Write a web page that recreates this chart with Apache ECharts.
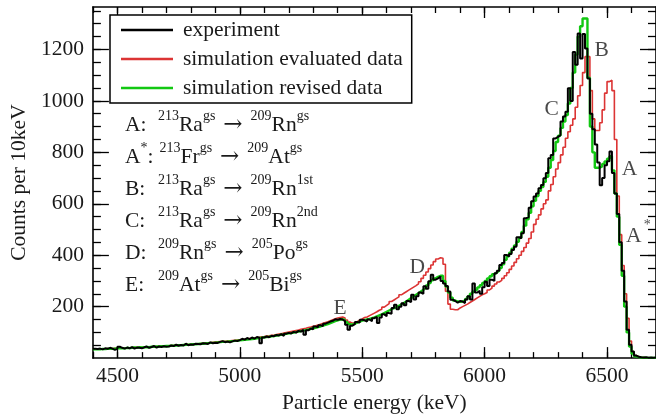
<!DOCTYPE html>
<html><head><meta charset="utf-8">
<script src="https://cdn.jsdelivr.net/npm/echarts@6/dist/echarts.min.js"></script>
<style>html,body{margin:0;padding:0;background:#fff}#c{width:656px;height:419px}</style>
</head><body><div id="c"></div>
<script>
// ---- data (10 keV bins, bin start energies) ----
const binStart = [];
for (let e = 4400; e < 6700; e += 10) binStart.push(e);

const experiment = [
 36,35,37,34,38,36,40,37,32,36,
 44,40,37,41,38,43,37,41,40,38,
 42,45,40,43,47,41,45,43,46,44,
 45,49,47,52,48,51,49,56,50,53,
 52,56,55,54,58,57,55,61,58,60,
 59,63,66,62,64,61,65,68,66,70,
 75,72,78,74,80,76,82,79,58,80,
 84,81,87,85,90,88,93,86,95,98,
 96,102,99,106,103,110,91,108,115,112,
 123,120,128,125,134,138,142,145,151,149,
 152,150,144,130,110,126,132,140,138,149,
 147,142,150,143,155,160,136,158,170,163,
 175,172,195,207,190,200,213,205,222,218,
 246,228,240,255,250,279,270,299,324,305,
 310,317,300,290,280,259,227,222,215,222,
 220,214,228,240,228,290,255,262,250,275,
 297,280,305,300,330,340,362,370,401,395,
 405,420,433,470,466,485,544,548,585,610,
 628,640,660,673,699,720,777,790,854,860,
 867,920,939,958,1049,1000,1190,1140,1262,1165,
 1260,1204,1087,950,890,830,760,672,700,750,
 765,803,720,640,560,450,340,220,110,52,
 26,10,5,3,2,3,1,2,1,2
];
const simEvaluated = [
 35,35,35,36,36,37,37,37,38,38,
 39,39,39,40,40,41,41,42,42,42,
 43,43,44,44,45,45,46,46,47,47,
 48,49,49,50,51,51,52,53,53,54,
 55,56,56,57,58,59,59,60,61,62,
 63,64,65,65,66,67,68,69,70,71,
 72,73,75,76,77,78,80,81,83,84,
 86,87,89,90,92,94,95,97,99,101,
 103,105,107,109,112,114,116,119,121,124,
 126,129,132,135,138,141,145,149,153,156,
 158,160,156,148,140,136,136,142,148,152,
 158,160,165,170,175,180,186,190,198,205,
 212,220,226,232,238,246,252,258,264,270,
 276,282,289,297,310,322,335,348,362,375,
 385,390,388,365,260,210,190,188,188,195,
 200,205,210,216,222,228,234,240,246,250,
 255,265,272,280,288,296,302,310,320,332,
 345,358,372,386,400,415,430,447,465,490,
 520,540,557,580,600,615,650,675,705,735,
 760,790,820,855,880,905,930,975,1020,1060,
 1110,1172,1172,1040,930,885,885,915,965,1030,
 1075,1080,1040,850,630,480,360,250,155,66,
 25,10,5,3,2,1,1,1,1,1
];
const simRevised = [
 34,35,34,36,35,36,37,36,37,38,
 38,39,38,40,39,40,41,40,42,41,
 42,43,42,44,44,45,45,46,46,47,
 47,48,48,49,50,50,51,52,52,53,
 54,54,55,56,56,57,58,59,59,60,
 61,62,63,63,64,65,66,67,68,69,
 70,71,72,73,74,75,77,78,79,81,
 82,83,85,86,88,89,91,92,94,96,
 97,99,101,103,105,107,109,111,114,116,
 118,121,123,126,129,132,136,140,144,147,
 150,151,148,140,132,130,134,138,142,146,
 148,150,152,155,158,162,166,170,175,180,
 185,190,194,198,203,208,214,220,227,234,
 240,246,252,259,266,273,282,292,302,310,
 316,320,320,300,278,255,235,224,220,219,
 220,222,230,240,250,258,266,275,283,292,
 300,310,318,326,333,340,350,365,382,396,
 410,425,438,452,468,490,515,540,565,590,
 612,630,650,665,685,705,740,770,805,840,
 865,895,920,945,990,1050,1110,1180,1250,1290,
 1320,1320,1090,900,800,740,740,745,755,765,
 775,785,730,640,550,440,320,200,100,45,
 18,7,4,2,2,1,1,1,1,1
];

const seriesNames = ['experiment', 'simulation evaluated data', 'simulation revised data'];
const xMajorTicks = [4500, 5000, 5500, 6000, 6500];
const yMajorTicks = [200, 400, 600, 800, 1000, 1200];

// peak markers
const peakNames  = ['A', 'A*', 'B', 'C', 'D', 'E'];
const peakEnergy = [6592, 6628, 6478, 6274, 5725, 5410];
const peakCounts = [735, 475, 1198, 968, 352, 195];

// decay list
const decayKeys       = ['A', 'A*', 'B', 'C', 'D', 'E'];
const parentMass      = ['213', '213', '213', '213', '209', '209'];
const parentSymbol    = ['Ra', 'Fr', 'Ra', 'Ra', 'Rn', 'At'];
const parentState     = ['gs', 'gs', 'gs', 'gs', 'gs', 'gs'];
const daughterMass    = ['209', '209', '209', '209', '205', '205'];
const daughterSymbol  = ['Rn', 'At', 'Rn', 'Rn', 'Po', 'Bi'];
const daughterState   = ['gs', 'gs', '1st', '2nd', 'gs', 'gs'];

// ---- build ----
const X_MIN = 4400, X_MAX = 6700, Y_MIN = 0, Y_MAX = 1365;
const FONT = '"Liberation Serif", "Times New Roman", serif';
const FS = 21.5;
const TXT = '#1a1a1a';

function steps(vals) {
  const d = binStart.map((e, i) => [e, vals[i]]);
  d.push([X_MAX, vals[vals.length - 1]]);
  return d;
}
const xMinor = []; for (let v = X_MIN; v <= X_MAX; v += 100) xMinor.push(v);
const yMinor = []; for (let v = 50; v <= Y_MAX; v += 50) yMinor.push(v);

function keyRich(k) {
  if (k.endsWith('*')) return '{kA|' + k.slice(0, -1) + '}{ks|*}{kc|:}';
  return '{k|' + k + ':}';
}
const decayText = decayKeys.map((k, i) =>
  keyRich(k) + '{s|' + parentMass[i] + '}{m|' + parentSymbol[i] + '}{s|' + parentState[i] +
  '}{ar|\u2192}{s|' + daughterMass[i] + '}{m|' + daughterSymbol[i] + '}{s|' + daughterState[i] + '}'
).join('\n');

const axisLineStyle = { color: '#000', width: 1.6 };
function xAx(pos, major, withLabels) {
  const a = {
    type: 'value', min: X_MIN, max: X_MAX, position: pos,
    axisLine: { show: major, onZero: false, lineStyle: axisLineStyle },
    axisTick: { show: true, inside: true, length: major ? 11 : 6, customValues: major ? xMajorTicks : xMinor, lineStyle: { color: '#000', width: 1.3 } },
    axisLabel: withLabels ? { show: true, customValues: xMajorTicks, formatter: v => String(v), fontSize: FS, fontFamily: FONT, color: TXT, margin: 7 } : { show: false },
    splitLine: { show: false }
  };
  if (withLabels) {
    a.name = 'Particle energy (keV)';
    a.nameLocation = 'middle';
    a.nameGap = 33;
    a.nameTextStyle = { fontSize: FS, fontFamily: FONT, color: TXT };
  }
  return a;
}
function yAx(pos, major, withLabels) {
  const a = {
    type: 'value', min: Y_MIN, max: Y_MAX, position: pos,
    axisLine: { show: major, onZero: false, lineStyle: axisLineStyle },
    axisTick: { show: true, inside: true, length: major ? 16 : 8, customValues: major ? yMajorTicks : yMinor, lineStyle: { color: '#000', width: 1.3 } },
    axisLabel: withLabels ? { show: true, customValues: yMajorTicks, formatter: v => String(v), fontSize: FS, fontFamily: FONT, color: TXT, margin: 9 } : { show: false },
    splitLine: { show: false }
  };
  if (withLabels) {
    a.name = 'Counts per 10keV';
    a.nameLocation = 'middle';
    a.nameGap = 58;
    a.nameTextStyle = { fontSize: FS, fontFamily: FONT, color: TXT };
  }
  return a;
}

const lineSeries = (name, vals, color, width) => ({
  name, type: 'line', step: 'end', data: steps(vals),
  xAxisIndex: 0, yAxisIndex: 0,
  symbol: 'none', showSymbol: false,
  lineStyle: { color, width }, itemStyle: { color },
  emphasis: { disabled: true }, silent: true, clip: true
});

const chart = echarts.init(document.getElementById('c'), null, { renderer: 'canvas' });
chart.setOption({
  animation: false,
  backgroundColor: '#fff',
  grid: { left: 92, top: 7, width: 565, height: 353, containLabel: false },
  xAxis: [xAx('bottom', true, true), xAx('bottom', false, false), xAx('top', true, false), xAx('top', false, false)],
  yAxis: [yAx('left', true, true), yAx('left', false, false), yAx('right', true, false), yAx('right', false, false)],
  legend: {
    data: seriesNames.map(n => ({ name: n, icon: 'rect' })),
    orient: 'vertical', left: 110, top: 15,
    padding: [4, 9, 4, 11],
    itemWidth: 52, itemHeight: 2.5, itemGap: 7,
    backgroundColor: '#fff', borderColor: '#000', borderWidth: 1.5, borderRadius: 0,
    textStyle: { fontSize: FS, lineHeight: 21, fontFamily: FONT, color: TXT, padding: [0, 0, 0, 5] },
    selectedMode: false
  },
  series: [
    lineSeries(seriesNames[1], simEvaluated, '#dc3434', 1.6),
    lineSeries(seriesNames[2], simRevised, '#12c812', 2.4),
    lineSeries(seriesNames[0], experiment, '#000000', 2),
    {
      type: 'scatter', xAxisIndex: 0, yAxisIndex: 0, silent: true,
      symbolSize: 1, itemStyle: { color: 'rgba(0,0,0,0)' },
      data: peakNames.map((n, i) => ({ name: n, value: [peakEnergy[i], peakCounts[i]] })),
      label: {
        show: true, position: 'inside', color: TXT, fontSize: FS, fontFamily: FONT,
        formatter: p => p.name.endsWith('*') ? '{b|' + p.name.slice(0, -1) + '}{sp|*}' : '{b|' + p.name + '}',
        rich: {
          b: { fontSize: FS, fontFamily: FONT, color: TXT, lineHeight: 36 },
          sp: { fontSize: 14, fontFamily: FONT, color: TXT, lineHeight: 12, verticalAlign: 'top', padding: [0, 0, 0, 2] }
        }
      }
    }
  ],
  graphic: [{
    type: 'text', left: 125, top: 109, silent: true,
    style: {
      text: decayText,
      fill: TXT,
      rich: {
        k:  { fontSize: FS, fontFamily: FONT, fill: TXT, lineHeight: 32, width: 33 },
        kA: { fontSize: FS, fontFamily: FONT, fill: TXT, lineHeight: 32 },
        ks: { fontSize: 14, fontFamily: FONT, fill: TXT, lineHeight: 12, verticalAlign: 'top' },
        kc: { fontSize: FS, fontFamily: FONT, fill: TXT, lineHeight: 32, width: 12 },
        m:  { fontSize: FS, fontFamily: FONT, fill: TXT, lineHeight: 32 },
        ar: { fontSize: 23, fontFamily: '"DejaVu Serif", serif', fill: TXT, lineHeight: 32, padding: [0, 8, 0, 8] },
        s:  { fontSize: 14, fontFamily: FONT, fill: TXT, lineHeight: 12, verticalAlign: 'top' }
      }
    }
  }]
});
</script>
</body></html>
